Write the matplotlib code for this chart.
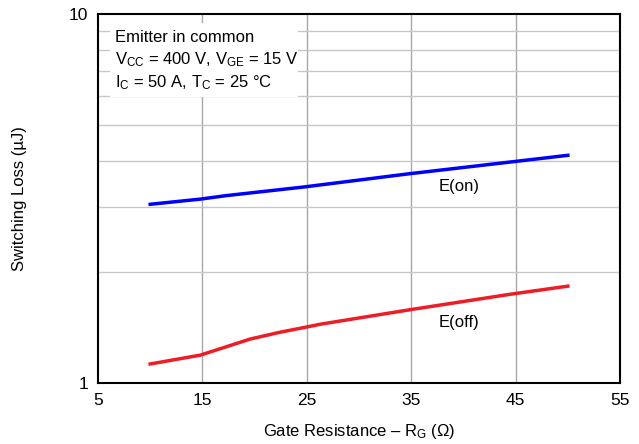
import matplotlib
matplotlib.use("Agg")
import matplotlib.pyplot as plt
from matplotlib.ticker import FixedLocator, NullFormatter
from matplotlib.patches import Rectangle

plt.rcParams['font.family'] = ['Liberation Sans', 'DejaVu Sans']
plt.rcParams['mathtext.fontset'] = 'custom'
plt.rcParams['mathtext.rm'] = 'Liberation Sans'
plt.rcParams['mathtext.it'] = 'Liberation Sans:italic'
plt.rcParams['mathtext.bf'] = 'Liberation Sans:bold'

rg_on = [10, 14.8, 17.3, 24.8, 34.8, 44.8, 50]
e_on = [3.05, 3.15, 3.22, 3.40, 3.69, 3.98, 4.14]

rg_off = [10, 14.8, 17.3, 19.6, 22.4, 24.8, 26.3, 34.9, 44.5, 50]
e_off = [1.126, 1.19, 1.254, 1.316, 1.372, 1.415, 1.443, 1.58, 1.74, 1.83]

xticks = [5, 15, 25, 35, 45, 55]
yticks = [1, 10]

fig = plt.figure(figsize=(6.39, 4.44), dpi=100)
ax = fig.add_axes([98/639, 1-383/444, (620-98)/639, (383-14)/444])
ax.set_yscale('log')
ax.set_xlim(5, 55)
ax.set_ylim(1, 10)

ax.xaxis.set_major_locator(FixedLocator(xticks))
ax.set_xticklabels([str(t) for t in xticks])
ax.yaxis.set_major_locator(FixedLocator(yticks))
ax.set_yticklabels([str(t) for t in yticks])
ax.yaxis.set_minor_locator(FixedLocator([2, 3, 4, 5, 6, 7, 8, 9]))
ax.yaxis.set_minor_formatter(NullFormatter())
ax.tick_params(which='both', length=0, labelsize=12.5, pad=7)

for v in [15, 25, 35, 45]:
    ax.axvline(v, color='#a8a8a8', lw=1, zorder=0)
ax.grid(True, which='minor', axis='y', color='#c8c8c8', lw=1, zorder=0)

for s in ax.spines.values():
    s.set_linewidth(1.5)
    s.set_color('black')

ax.plot(rg_on, e_on, color='#0000ff', lw=2.5, zorder=3, solid_joinstyle='round')
ax.plot(rg_off, e_off, color='#ee1c25', lw=2.5, zorder=3, solid_joinstyle='round')

ax.text(37.6, 3.40, 'E(on)', fontsize=12, ha='left', va='center')
ax.text(37.6, 1.46, 'E(off)', fontsize=12, ha='left', va='center')

ax.add_patch(Rectangle((0.023, 0.775), 0.36, 0.201, transform=ax.transAxes,
                       facecolor='white', edgecolor='none', zorder=2))
ax.text(0.033, 0.935, 'Emitter in common', transform=ax.transAxes, fontsize=12, va='center', zorder=4)
ax.text(0.033, 0.875, r'V$_{\mathregular{CC}}$ = 400 V, V$_{\mathregular{GE}}$ = 15 V',
        transform=ax.transAxes, fontsize=12, va='center', zorder=4)
ax.text(0.033, 0.815, r'I$_{\mathregular{C}}$ = 50 A, T$_{\mathregular{C}}$ = 25 °C',
        transform=ax.transAxes, fontsize=12, va='center', zorder=4)

ax.set_xlabel('Gate Resistance – R$_{\\mathregular{G}}$ (Ω)', fontsize=12, labelpad=10)
ax.set_ylabel('Switching Loss (µJ)', fontsize=12, labelpad=30)

fig.savefig('out.png', dpi=100)
